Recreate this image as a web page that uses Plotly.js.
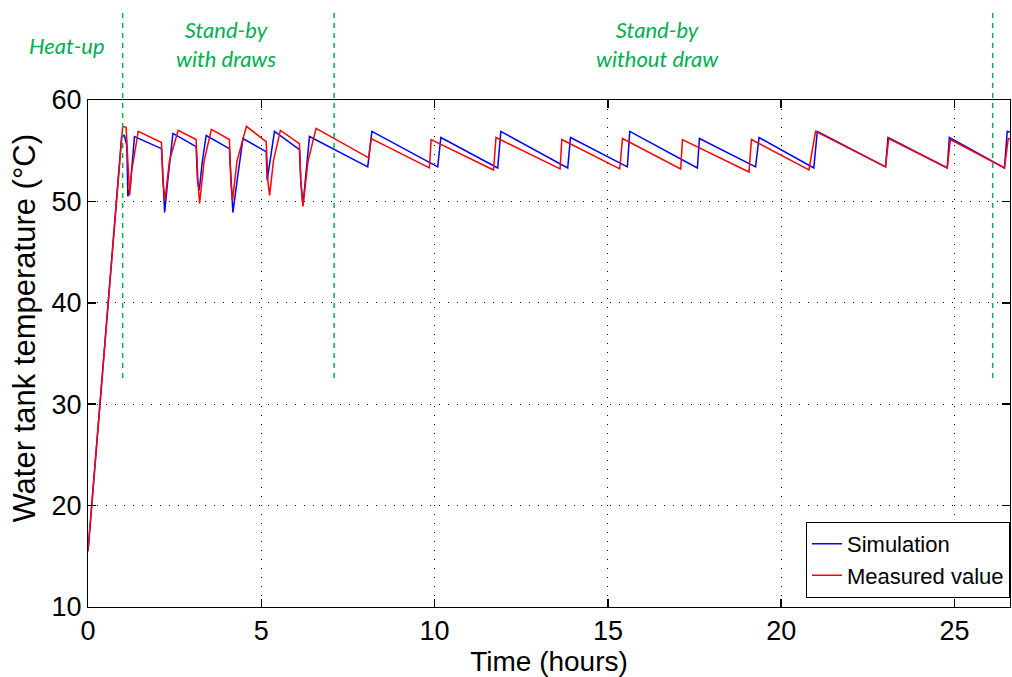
<!DOCTYPE html>
<html>
<head>
<meta charset="utf-8">
<script src="https://cdn.plot.ly/plotly-3.0.1.min.js"></script>
<style>
  html, body { margin: 0; padding: 0; background: #fff; }
  #chart { width: 1012px; height: 677px; }
</style>
</head>
<body>
<div id="chart"></div>
<script>
// Simulation (blue)
const simTime = [0, 0.34, 0.82, 0.97, 1.05, 1.12, 1.15, 1.22, 1.34, 2.12, 2.17, 2.21, 2.3, 2.45,
  3.12, 3.16, 3.21, 3.3, 3.41, 4.08, 4.13, 4.18, 4.3, 4.47, 5.14, 5.17, 5.21, 5.38,
  6.1, 6.14, 6.2, 6.3, 6.39, 8.07, 8.19, 10.09, 10.18, 11.82, 11.91, 13.84, 13.92,
  15.56, 15.63, 17.58, 17.64, 19.26, 19.36, 20.94, 21.04, 23.01, 23.08, 24.79, 24.85,
  26.44, 26.52, 26.6];
const simTemp = [15.5, 30, 50, 56.4, 56.5, 55.5, 50.5, 51.5, 56.4, 55.2, 52, 48.9, 52, 56.7,
  55.4, 52, 51.1, 54, 56.5, 55.2, 52, 48.9, 52, 56.2, 54.9, 52.1, 53, 56.9,
  55.1, 52, 49.6, 53, 56.4, 53.4, 56.9, 53.4, 56.3, 53.3, 56.9, 53.3, 56.3,
  53.4, 56.9, 53.3, 56.2, 53.4, 56.3, 53.3, 56.9, 53.4, 56.3, 53.3, 56.3,
  53.3, 56.9, 56.85];

// Measured value (red)
const measTime = [0, 0.34, 0.82, 1.0, 1.1, 1.14, 1.2, 1.26, 1.45, 2.12, 2.16, 2.22, 2.35, 2.6,
  3.12, 3.17, 3.22, 3.35, 3.56, 4.08, 4.12, 4.17, 4.3, 4.57, 5.14, 5.19, 5.24, 5.35, 5.55,
  6.1, 6.14, 6.2, 6.35, 6.58, 8.1, 8.17, 9.85, 9.9, 11.7, 11.77, 13.62, 13.67,
  15.34, 15.42, 17.1, 17.15, 19.07, 19.14, 20.8, 20.99, 23.01, 23.1, 24.79, 24.88,
  26.44, 26.55, 26.6];
const measTemp = [15.5, 30, 50, 57.4, 57.3, 54, 50.6, 53, 56.9, 55.8, 52, 50.1, 54, 57.0,
  56.1, 52, 49.8, 54, 57.1, 56.1, 52, 50.1, 54, 57.4, 55.9, 52, 50.6, 54, 57.0,
  55.7, 52, 49.5, 54, 57.2, 54.3, 56.2, 53.3, 56.1, 53.1, 56.3, 53.2, 56.1,
  53.2, 56.2, 53.2, 56.1, 52.9, 56.1, 53.1, 56.9, 53.4, 56.2, 53.3, 56.1,
  53.3, 56.2, 56.15];

const seriesNames = ["Simulation", "Measured value"];
const phaseBoundaries = [1.0, 7.1, 26.1];
const phaseLabels = ["Heat-up", "Stand-by<br>with draws", "Stand-by<br>without draw"];
const xTicks = [0, 5, 10, 15, 20, 25];
const yTicks = [10, 20, 30, 40, 50, 60];
const xTitle = "Time (hours)";
const yTitle = "Water tank temperature (°C)";

const green = "#00b050";
const font = "Liberation Sans, Arial, sans-serif";

const traces = [
  { x: simTime, y: simTemp, name: seriesNames[0], type: "scatter", mode: "lines",
    line: { color: "#0000ff", width: 1.5 } },
  { x: measTime, y: measTemp, name: seriesNames[1], type: "scatter", mode: "lines",
    line: { color: "#ff0000", width: 1.5 } }
];

const labelPos = [ [-0.023, 1.108], [0.1497, 1.111], [0.618, 1.111] ];
const annotations = phaseLabels.map((t, i) => ({
  text: "<i>" + t + "</i>", xref: "paper", yref: "paper",
  x: labelPos[i][0], y: labelPos[i][1], xanchor: "center", yanchor: "middle",
  showarrow: false, font: { family: "Lato, sans-serif", size: 22, color: green }
}));
// y-axis title (placed as rotated text so it sits where the reference has it)
annotations.push({
  text: yTitle, xref: "paper", yref: "paper", x: -0.069, y: 0.55,
  xanchor: "center", yanchor: "middle", textangle: -90, showarrow: false,
  font: { family: "Liberation Sans Narrow, Arial Narrow, sans-serif", size: 31, color: "#000" }
});

const shapes = phaseBoundaries.map(b => ({
  type: "line", xref: "x", yref: "paper", x0: b, x1: b, y0: 0.4517, y1: 1.18,
  line: { color: green, width: 1.5, dash: "5px,5px" }
}));

const axisCommon = {
  showline: true, linecolor: "#000", linewidth: 1, mirror: "ticks",
  ticks: "inside", ticklen: 8, tickcolor: "#000", tickwidth: 1.5,
  showgrid: true, gridcolor: "#000", gridwidth: 1, griddash: "1px,8px",
  zeroline: false, tickfont: { family: font, size: 27, color: "#000" }
};

const layout = {
  width: 1012, height: 677,
  margin: { l: 88, r: 2, t: 100, b: 70 },
  paper_bgcolor: "#fff", plot_bgcolor: "#fff",
  showlegend: true,
  legend: {
    x: 1, xanchor: "right", y: 0.018, yanchor: "bottom",
    bgcolor: "#fff", bordercolor: "#000", borderwidth: 1,
    font: { family: font, size: 22, color: "#000" },
    tracegroupgap: 0
  },
  xaxis: Object.assign({}, axisCommon, {
    range: [0, 26.6], tickvals: xTicks, ticktext: xTicks.map(String),
    title: { text: xTitle, font: { family: font, size: 28, color: "#000" }, standoff: 0 }
  }),
  yaxis: Object.assign({}, axisCommon, {
    range: [10, 60], tickvals: yTicks, ticktext: yTicks.map(String)
  }),
  annotations: annotations,
  shapes: shapes
};

Plotly.newPlot("chart", traces, layout, { displayModeBar: false, staticPlot: true });
</script>
</body>
</html>
